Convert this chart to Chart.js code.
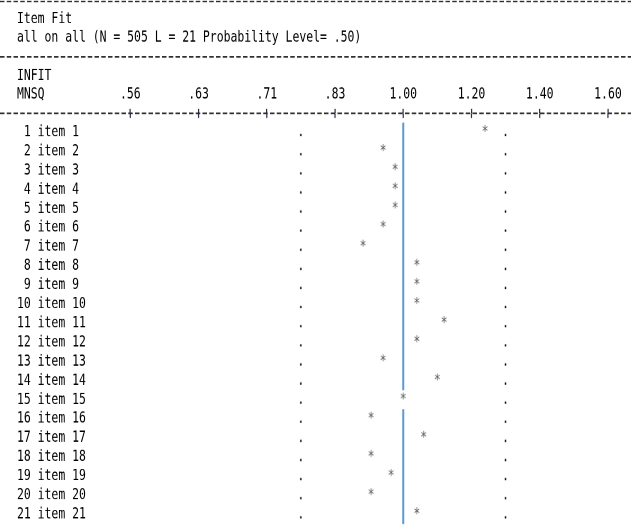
<!DOCTYPE html>
<html>
<head>
<meta charset="utf-8">
<script src="https://cdn.jsdelivr.net/npm/chart.js@4.4.0/dist/chart.umd.min.js"></script>
<style>
  html, body { margin: 0; padding: 0; background: #fff; }
  #wrap { width: 631px; height: 529px; overflow: hidden; }
  /* the original print-out uses a tall, narrow terminal font: stretch the plot vertically */
  #fitChart { transform: scaleY(1.3225); transform-origin: 0 0; }
</style>
</head>
<body>
<div id="wrap"><canvas id="fitChart" width="631" height="400"></canvas></div>
<script>
// Item fit map values
const items = ["item 1", "item 2", "item 3", "item 4", "item 5", "item 6", "item 7",
               "item 8", "item 9", "item 10", "item 11", "item 12", "item 13", "item 14",
               "item 15", "item 16", "item 17", "item 18", "item 19", "item 20", "item 21"];
const infit = [1.24, 0.95, 0.98, 0.98, 0.98, 0.95, 0.90, 1.04, 1.04, 1.04, 1.12,
               1.04, 0.95, 1.10, 1.00, 0.92, 1.06, 0.92, 0.97, 0.92, 1.04];
const ciLow = [0.77, 0.77, 0.77, 0.77, 0.77, 0.77, 0.77, 0.77, 0.77, 0.77, 0.77,
               0.77, 0.77, 0.77, 0.77, 0.77, 0.77, 0.77, 0.77, 0.77, 0.77];
const ciHigh = [1.30, 1.30, 1.30, 1.30, 1.30, 1.30, 1.30, 1.30, 1.30, 1.30, 1.30,
                1.30, 1.30, 1.30, 1.30, 1.30, 1.30, 1.30, 1.30, 1.30, 1.30];
const scaleTicks = [0.56, 0.63, 0.71, 0.83, 1.00, 1.20, 1.40, 1.60];
const tickLabels = [".56", ".63", ".71", ".83", "1.00", "1.20", "1.40", "1.60"];
const expected = 1.00;

const STRETCH = 529 / 400;
const MONO = '"DejaVu Sans Mono", "Liberation Mono", monospace';
const FONT_SIZE = 11.45;
const DASH = [4.5, 2.25];
const TICK_COLOR = "#3a2448";

// the MNSQ axis is evenly spaced per tick label, so map a value to its tick position
function toPos(v) {
    for (let i = 0; i < scaleTicks.length - 1; i++) {
        if (v <= scaleTicks[i + 1] || i === scaleTicks.length - 2) {
            return i + (v - scaleTicks[i]) / (scaleTicks[i + 1] - scaleTicks[i]);
        }
    }
}

// text glyphs as point styles, so '*' sits high and '.' sits low like in the print-out
function glyph(ch, color) {
    const w = 8, h = 14;
    const c = document.createElement("canvas");
    c.width = w * 2;
    c.height = h * 2;
    const g = c.getContext("2d");
    g.scale(2, 2);
    g.font = FONT_SIZE + "px " + MONO;
    g.fillStyle = color;
    g.textAlign = "center";
    g.textBaseline = "middle";
    g.fillText(ch, w / 2, h / 2);
    const img = new Image(w, h);
    img.src = c.toDataURL();
    return img;
}

const starImg = glyph("*", "#585858");
const dotImg = glyph(".", "#000");

// reference line at 1.00, broken where a star takes its place
const refLine = [];
infit.forEach(function (v, i) {
    if (v === expected) {
        refLine.push({ x: toPos(expected), y: null });
        return;
    }
    refLine.push({ x: toPos(expected), y: i + 0.5 }, { x: toPos(expected), y: i + 1.5 });
});

const textPlot = {
    id: "textPlot",
    beforeDraw(chart) {
        const ctx = chart.ctx;
        ctx.save();
        ctx.fillStyle = "#fff";
        ctx.fillRect(0, 0, chart.width, chart.height);
        ctx.restore();
    },
    afterDraw(chart) {
        const ctx = chart.ctx;
        const ry = y => y / STRETCH;
        const top = chart.chartArea.top;
        ctx.save();
        // dashed separators, the last one is the axis line
        ctx.strokeStyle = "#222";
        ctx.lineWidth = 1.1;
        ctx.setLineDash(DASH);
        [ry(1.5), ry(57), top].forEach(function (y) {
            ctx.beginPath();
            ctx.moveTo(0, y);
            ctx.lineTo(chart.width, y);
            ctx.stroke();
        });
        ctx.setLineDash([]);
        // lower half of the '+' marks
        const xs = chart.scales.x;
        ctx.strokeStyle = TICK_COLOR;
        ctx.lineWidth = 1.2;
        xs.ticks.forEach(function (t) {
            const px = xs.getPixelForValue(t.value);
            ctx.beginPath();
            ctx.moveTo(px, top);
            ctx.lineTo(px, top + 3.5);
            ctx.stroke();
        });
        // header text
        ctx.fillStyle = "#000";
        ctx.font = FONT_SIZE + "px " + MONO;
        ctx.textBaseline = "middle";
        ctx.fillText("Item Fit", 17, ry(19.5));
        ctx.fillText("all on all (N = 505 L = 21 Probability Level= .50)", 17, ry(37.5));
        ctx.fillText("INFIT", 17, ry(76));
        ctx.fillText("MNSQ", 17, ry(94.5));
        ctx.restore();
    }
};

function drawChart() {
    const ctx = document.getElementById("fitChart").getContext("2d");
    new Chart(ctx, {
        type: "scatter",
        data: {
            datasets: [{
                label: "Infit MNSQ",
                data: infit.map((v, i) => ({ x: toPos(v), y: i + 1 })),
                pointStyle: starImg,
                pointRadius: 4
            },
            {
                label: "Lower",
                data: ciLow.map((v, i) => ({ x: toPos(v), y: i + 1 })),
                pointStyle: dotImg,
                pointRadius: 4
            },
            {
                label: "Upper",
                data: ciHigh.map((v, i) => ({ x: toPos(v), y: i + 1 })),
                pointStyle: dotImg,
                pointRadius: 4
            },
            {
                label: "Expected",
                data: refLine,
                showLine: true,
                spanGaps: false,
                borderColor: "#5b9bd5",
                borderWidth: 2,
                pointRadius: 0
            }]
        },
        options: {
            responsive: false,
            animation: false,
            devicePixelRatio: 2,
            layout: { padding: 0, autoPadding: false },
            plugins: {
                legend: { display: false },
                tooltip: { enabled: false }
            },
            scales: {
                x: {
                    type: "linear",
                    position: "top",
                    min: -1.91,
                    max: 7.338,
                    afterBuildTicks: s => { s.ticks = scaleTicks.map((_, i) => ({ value: i })); },
                    afterFit: s => { s.height = 113.3 / STRETCH; },
                    ticks: {
                        callback: v => tickLabels[v],
                        autoSkip: false,
                        maxRotation: 0,
                        padding: 4,
                        color: "#000",
                        font: { family: MONO, size: FONT_SIZE }
                    },
                    grid: { drawOnChartArea: false, tickLength: 3.3, color: TICK_COLOR, lineWidth: 1.2 },
                    border: { display: false }
                },
                y: {
                    type: "linear",
                    reverse: true,
                    min: 0.01,
                    max: 21.76,
                    afterBuildTicks: s => { s.ticks = items.map((_, i) => ({ value: i + 1 })); },
                    afterFit: s => { s.width = 0; s.paddingTop = 0; s.paddingBottom = 0; },
                    ticks: {
                        mirror: true,
                        autoSkip: false,
                        padding: 17,
                        callback: v => String(v).padStart(2, " ") + " " + items[v - 1],
                        color: "#000",
                        font: { family: MONO, size: FONT_SIZE }
                    },
                    grid: { display: false },
                    border: { display: false }
                }
            }
        },
        plugins: [textPlot]
    });
}

Promise.all([starImg, dotImg].map(img => img.decode())).then(drawChart);
</script>
</body>
</html>
